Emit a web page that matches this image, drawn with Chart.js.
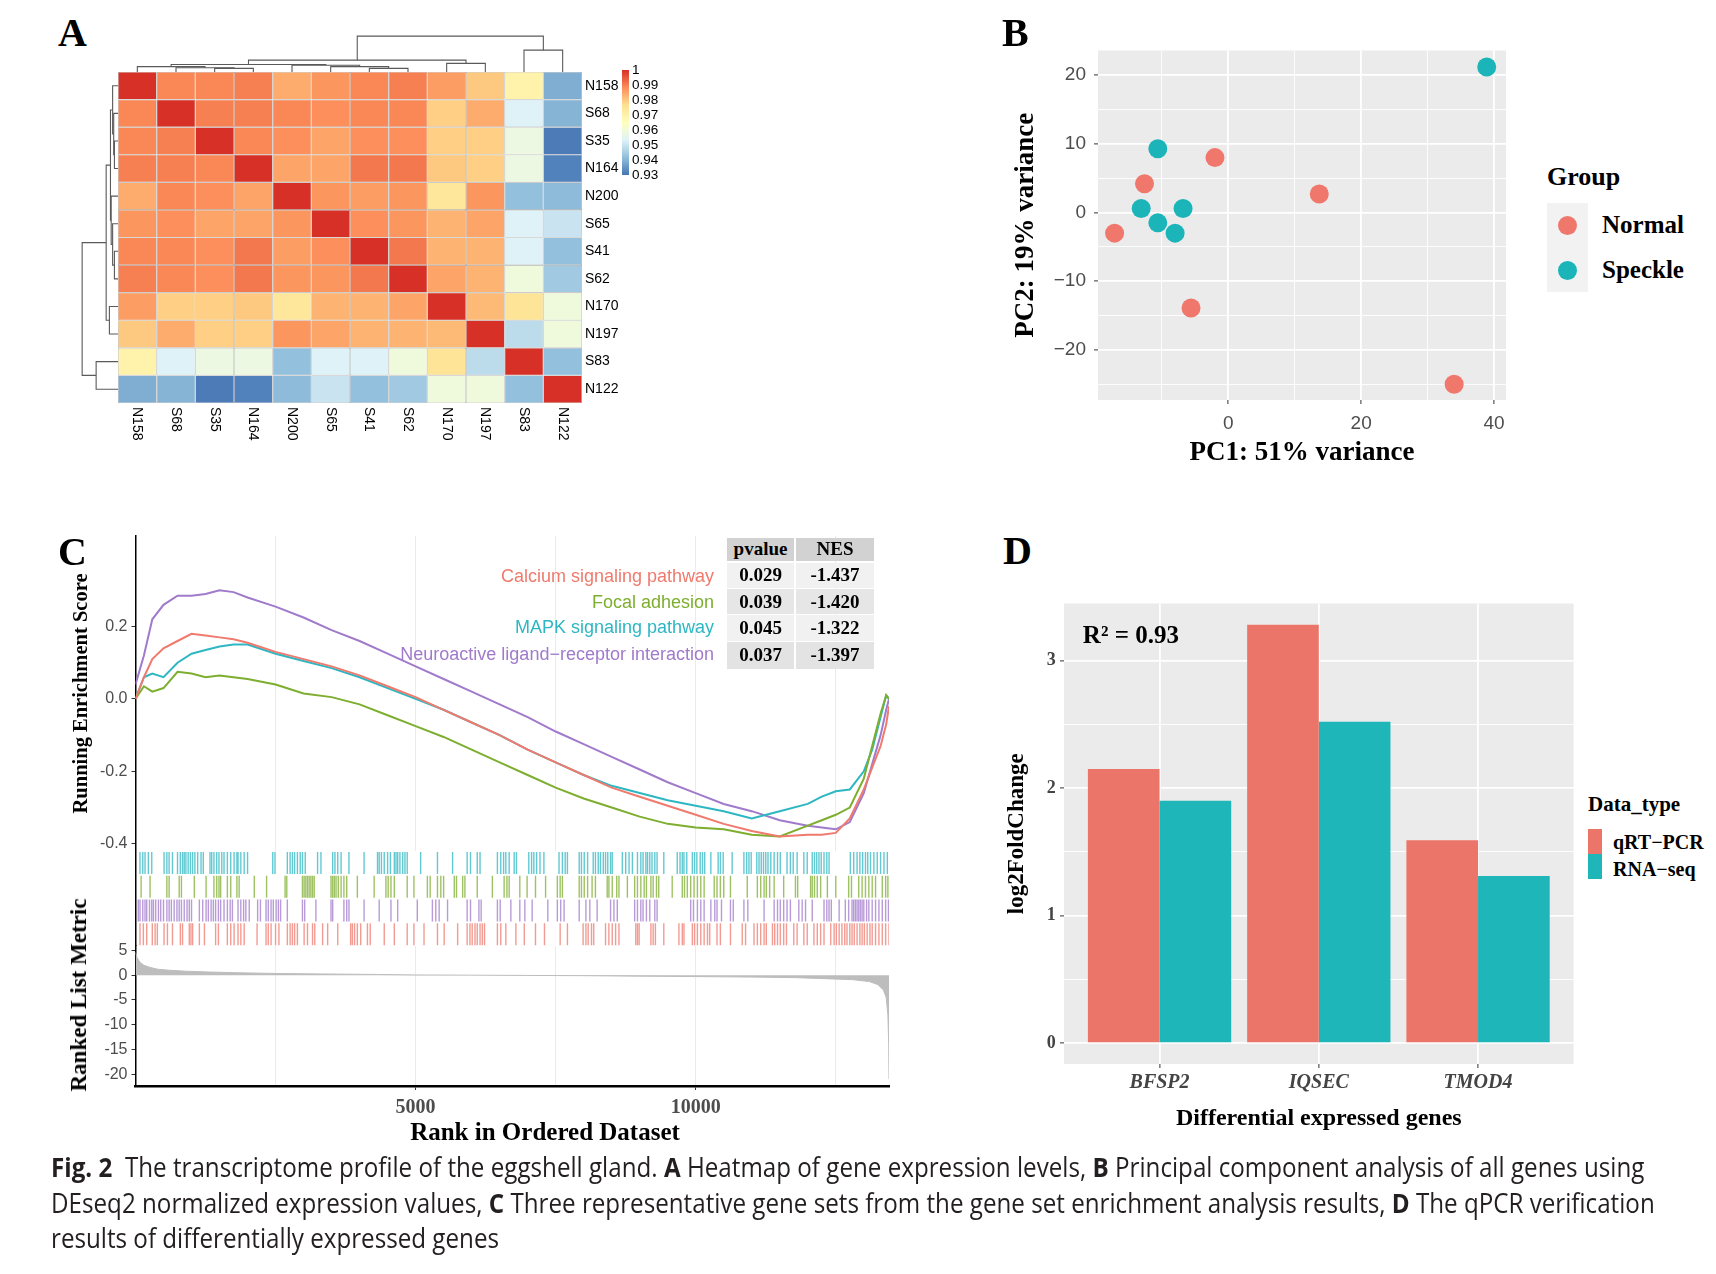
<!DOCTYPE html>
<html>
<head>
<meta charset="utf-8">
<title>Fig. 2 The transcriptome profile of the eggshell gland</title>
<script src="https://cdn.jsdelivr.net/npm/chart.js@4.4.1/dist/chart.umd.min.js"></script>
<style>
  html, body { margin:0; padding:0; background:#ffffff; }
  body { position:relative; width:1716px; height:1274px; overflow:hidden; }
  canvas { position:absolute; }
  .t { position:absolute; white-space:nowrap; color:#000; }
  .serifb { font-family:'Liberation Serif','Times New Roman',serif; font-weight:bold; }
  .sans { font-family:'Liberation Sans',Arial,sans-serif; }
  .cell { position:absolute; display:flex; align-items:center; justify-content:center;
          font-family:'Liberation Serif','Times New Roman',serif; font-weight:bold; font-size:19px; color:#000; }
  .cap { position:absolute; left:51px; white-space:nowrap; font-family:'Open Sans',sans-serif;
         font-size:27px; line-height:27px; color:#231f20; transform-origin:0 0; }
  .cap b { font-weight:bold; }
</style>
</head>
<body>
<script>
// ======================= DATA =======================
// ---- Panel A: sample-to-sample correlation heatmap ----
const samples = ['N158','S68','S35','N164','N200','S65','S41','S62','N170','N197','S83','N122'];
const corN158 = [1.000,0.989,0.989,0.990,0.984,0.987,0.989,0.990,0.986,0.980,0.970,0.939];
const corS68  = [0.989,1.000,0.990,0.990,0.989,0.988,0.989,0.989,0.979,0.984,0.953,0.940];
const corS35  = [0.989,0.990,1.000,0.989,0.988,0.985,0.988,0.988,0.979,0.979,0.958,0.931];
const corN164 = [0.990,0.990,0.989,1.000,0.985,0.985,0.991,0.991,0.980,0.979,0.958,0.932];
const corN200 = [0.984,0.989,0.988,0.985,1.000,0.987,0.986,0.987,0.974,0.987,0.942,0.941];
const corS65  = [0.987,0.988,0.985,0.985,0.987,1.000,0.988,0.987,0.983,0.985,0.953,0.950];
const corS41  = [0.989,0.989,0.988,0.991,0.986,0.988,1.000,0.991,0.983,0.983,0.953,0.942];
const corS62  = [0.990,0.989,0.988,0.991,0.987,0.987,0.991,1.000,0.985,0.983,0.959,0.944];
const corN170 = [0.986,0.979,0.979,0.980,0.974,0.983,0.983,0.985,1.000,0.982,0.975,0.959];
const corN197 = [0.980,0.984,0.979,0.979,0.987,0.985,0.983,0.983,0.982,1.000,0.948,0.959];
const corS83  = [0.970,0.953,0.958,0.958,0.942,0.953,0.953,0.959,0.975,0.948,1.000,0.942];
const corN122 = [0.939,0.940,0.931,0.932,0.941,0.950,0.942,0.944,0.959,0.959,0.942,1.000];
const heatLegendTicks = [1, 0.99, 0.98, 0.97, 0.96, 0.95, 0.94, 0.93];
const heatPalette = ['#4575B4','#91BFDB','#E0F3F8','#FFFFBF','#FEE090','#FC8D59','#D73027'];
// hierarchical clustering merges: [child, child, height]; numbers = leaves, 'mK' = K-th merge
const dendroMerges = [
  [2, 3, 0.10], [6, 7, 0.10], [1, 'm0', 0.12], [0, 'm2', 0.15], [5, 'm1', 0.15],
  [4, 'm4', 0.19], ['m3', 'm5', 0.21], [8, 9, 0.24], ['m6', 'm7', 0.33],
  [10, 11, 0.61], ['m8', 'm9', 1.00]
];

// ---- Panel B: PCA ----
const normalPC1  = [-17.1, -12.6, -2.0, 13.7, -5.6, 34.0];
const normalPC2  = [-3.0, 4.2, 8.0, 2.7, -13.9, -25.0];
const specklePC1 = [38.9, -10.6, -13.1, -6.8, -10.6, -8.0];
const specklePC2 = [21.2, 9.3, 0.6, 0.6, -1.5, -3.0];

// ---- Panel C: GSEA ----
const gsNames  = ['Calcium signaling pathway','Focal adhesion','MAPK signaling pathway','Neuroactive ligand\u2212receptor interaction'];
const gsPvalue = ['0.029','0.039','0.045','0.037'];
const gsNES    = ['-1.437','-1.420','-1.322','-1.397'];
const gsRugRow = [0, 2, 3, 1];   // rug row (0 = bottom) of each gene set
const gseaRank = [0,150,300,500,750,1000,1250,1500,1750,2000,2500,3000,3500,4000,4500,5000,5500,6000,6500,7000,7500,8000,8500,9000,9500,10000,10500,11000,11500,12000,12250,12500,12750,13000,13150,13300,13400,13450];
const esCalcium = [0.00,0.06,0.11,0.14,0.16,0.18,0.175,0.17,0.165,0.155,0.13,0.11,0.09,0.065,0.035,0.005,-0.03,-0.065,-0.10,-0.14,-0.175,-0.21,-0.245,-0.27,-0.295,-0.32,-0.345,-0.365,-0.38,-0.375,-0.375,-0.37,-0.33,-0.25,-0.19,-0.13,-0.07,-0.02];
const esFocal   = [0.00,0.035,0.02,0.03,0.075,0.07,0.06,0.065,0.06,0.055,0.04,0.015,0.005,-0.015,-0.045,-0.075,-0.105,-0.14,-0.175,-0.21,-0.245,-0.275,-0.30,-0.325,-0.345,-0.355,-0.36,-0.375,-0.38,-0.35,-0.335,-0.32,-0.30,-0.22,-0.13,-0.04,0.01,0.00];
const esMAPK    = [0.00,0.06,0.07,0.06,0.10,0.125,0.135,0.145,0.15,0.15,0.125,0.105,0.085,0.06,0.03,0.00,-0.03,-0.065,-0.10,-0.14,-0.175,-0.21,-0.24,-0.26,-0.28,-0.295,-0.31,-0.33,-0.31,-0.29,-0.27,-0.255,-0.25,-0.20,-0.14,-0.05,0.01,0.00];
const esNeuro   = [0.04,0.12,0.22,0.26,0.285,0.285,0.29,0.30,0.295,0.28,0.255,0.225,0.19,0.16,0.125,0.09,0.055,0.02,-0.015,-0.05,-0.09,-0.125,-0.16,-0.195,-0.23,-0.26,-0.29,-0.31,-0.335,-0.35,-0.355,-0.36,-0.34,-0.26,-0.18,-0.10,-0.03,0.00];
const hitsMAPK = [80,130,170,230,290,510,560,600,660,750,800,840,870,900,940,980,1020,1060,1110,1170,1210,1330,1360,1400,1450,1490,1540,1580,1640,1700,1760,1810,1830,1880,1940,2000,2450,2490,2710,2760,2800,2840,2890,2940,2980,3030,3250,3310,3520,3560,3610,3670,3810,4080,4320,4350,4390,4440,4500,4550,4620,4650,4680,4720,4770,4810,4850,5090,5390,5660,5920,5980,6100,6150,6460,6520,6570,6610,6670,6760,6800,7020,7070,7110,7160,7220,7290,7560,7620,7670,7710,7920,7960,8010,8070,8170,8210,8260,8300,8350,8390,8430,8480,8510,8690,8750,8810,8870,8960,9020,9060,9110,9140,9180,9220,9270,9310,9430,9670,9720,9760,9790,9840,9940,9980,10020,10080,10120,10160,10270,10400,10440,10490,10650,10860,10910,10950,10990,11090,11130,11170,11210,11250,11290,11340,11400,11460,11510,11630,11690,11740,11810,11930,11990,12080,12120,12160,12200,12240,12290,12340,12380,12760,12820,12880,12930,12980,13030,13070,13120,13180,13240,13300,13360,13420];
const hitsFocal = [100,260,560,600,780,820,1050,1260,1400,1450,1490,1520,1640,1700,1810,1850,2120,2340,2670,2700,2980,3010,3040,3070,3100,3130,3160,3190,3490,3520,3550,3580,3620,3670,3720,3770,3960,4260,4470,4510,4560,4620,4850,4970,5210,5260,5390,5450,5500,5690,5730,5840,5880,6100,6370,6580,6630,6670,6860,6990,7140,7320,7530,7580,7620,7920,7960,8010,8070,8150,8210,8420,8450,8510,8590,8630,8780,8910,8960,9020,9080,9120,9200,9240,9300,9340,9580,9760,9800,9850,9910,9970,10030,10090,10150,10330,10380,10440,10500,10620,10920,11100,11160,11220,11260,11320,11400,11570,11780,11820,12050,12080,12120,12170,12230,12350,12500,12730,12780,12910,12970,13030,13090,13150,13210,13330,13390,13430];
const hitsNeuro = [50,80,130,170,200,250,290,320,360,410,450,500,560,600,640,690,740,780,820,870,920,960,1000,1140,1200,1260,1300,1350,1390,1430,1480,1520,1580,1640,1690,1730,1830,1880,1930,1970,2030,2180,2230,2330,2370,2420,2460,2510,2550,2590,2710,2980,3020,3220,3490,3520,3720,3770,3810,4080,4350,4560,4680,5030,5300,5360,5420,5570,5920,5980,6130,6170,6460,6510,6700,6860,6950,7080,7360,7530,7590,7650,7920,8040,8110,8240,8480,8540,8600,8910,8960,9020,9060,9120,9180,9270,9310,9910,9960,10030,10090,10150,10270,10340,10380,10460,10620,10670,10860,10930,11220,11400,11460,11510,11570,11630,11690,11840,11900,11960,12080,12290,12340,12380,12420,12560,12670,12730,12790,12820,12850,12880,12910,12940,12970,13000,13050,13090,13150,13210,13270,13330,13390,13440];
const hitsCalcium = [80,140,200,300,350,390,510,570,660,800,840,960,990,1020,1140,1230,1430,1480,1640,1700,1760,1830,1880,1940,2170,2330,2370,2420,2500,2560,2710,2760,2800,2840,2890,3010,3070,3160,3200,3340,3430,3610,3840,3870,3910,3960,4020,4140,4190,4440,4620,4850,4970,5150,5390,5510,5750,5920,5970,6010,6060,6100,6150,6190,6230,6460,6520,6610,6790,6940,7140,7300,7580,7710,7990,8040,8080,8140,8180,8390,8450,8510,8570,8630,8930,8960,8990,9200,9240,9280,9430,9700,9760,9790,9940,9980,10030,10090,10150,10210,10250,10380,10440,10620,10830,10890,11040,11100,11160,11220,11260,11370,11410,11460,11510,11570,11620,11750,11810,11930,11990,12110,12170,12230,12290,12410,12470,12510,12560,12610,12660,12700,12750,12790,12830,12880,12930,12970,13010,13060,13110,13150,13210,13270,13330,13390,13450];
const metricRank  = [0,30,80,150,250,400,600,900,1300,1800,2500,3300,4300,5000,6000,7000,8000,9000,10000,11000,11800,12300,12800,13100,13250,13350,13400,13430,13445,13450];
const metricValue = [4.6,3.5,2.6,2.0,1.6,1.2,1.0,0.8,0.65,0.5,0.35,0.25,0.15,0.05,0.0,-0.05,-0.1,-0.2,-0.28,-0.38,-0.5,-0.7,-0.9,-1.3,-1.9,-3.0,-4.5,-8.0,-14.0,-21.0];
const rankGridTicks  = [2500, 5000, 7500, 10000, 12500];
const rankTickLabels = [5000, 10000];

// ---- Panel D: qPCR validation ----
const genes   = ['BFSP2','IQSEC','TMOD4'];
const qrtpcr  = [2.15, 3.28, 1.59];
const rnaseq  = [1.90, 2.52, 1.31];
const r2Text  = 'R\u00B2 = 0.93';
const r2Pos   = [0.82, 3.19];

// ======================= STYLE =======================
const SERIF = "'Liberation Serif','Times New Roman',serif";
const SANS  = "'Liberation Sans',Arial,sans-serif";
const colNormal = '#F0776C', colSpeckle = '#1BB5B9';
const colQ = '#EC7569', colR = '#1FB6B9';
const gsColors = ['#EF7A6D', '#7DAE2F', '#2EB7C3', '#A07ACB'];

Chart.defaults.animation = false;
Chart.defaults.responsive = false;
Chart.defaults.maintainAspectRatio = false;
Chart.defaults.plugins.legend.display = false;
Chart.defaults.plugins.tooltip.enabled = false;
Chart.defaults.events = [];
Chart.defaults.layout.autoPadding = false;
Chart.defaults.font.family = SANS;

function mkCanvas(left, top, w, h) {
  const c = document.createElement('canvas');
  c.width = w; c.height = h;
  c.style.left = left + 'px'; c.style.top = top + 'px';
  c.style.width = w + 'px'; c.style.height = h + 'px';
  document.body.appendChild(c);
  return c;
}
function hexToRgb(h) { const n = parseInt(h.slice(1), 16); return [(n >> 16) & 255, (n >> 8) & 255, n & 255]; }
function rgba(h, a) { const [r, g, b] = hexToRgb(h); return `rgba(${r},${g},${b},${a})`; }
function heatColor(v) {
  const lo = heatLegendTicks[heatLegendTicks.length - 1], hi = heatLegendTicks[0];
  const t = Math.min(1, Math.max(0, (v - lo) / (hi - lo))) * (heatPalette.length - 1);
  const i = Math.min(heatPalette.length - 2, Math.floor(t)), f = t - i;
  const a = hexToRgb(heatPalette[i]), b = hexToRgb(heatPalette[i + 1]);
  return `rgb(${Math.round(a[0] + (b[0] - a[0]) * f)},${Math.round(a[1] + (b[1] - a[1]) * f)},${Math.round(a[2] + (b[2] - a[2]) * f)})`;
}
function fixV(w) { return s => { s.width = w; s.paddingTop = 0; s.paddingBottom = 0; }; }
function fixH(h) { return s => { s.height = h; s.paddingLeft = 0; s.paddingRight = 0; }; }
function rankTicks(s) { s.ticks = rankGridTicks.map(v => ({ value: v })); }
const panelBg = {
  id: 'panelBg',
  beforeDraw(chart, args, opts) {
    if (!opts || !opts.color) return;
    const { ctx, chartArea: a } = chart;
    ctx.save(); ctx.fillStyle = opts.color;
    ctx.fillRect(a.left, a.top, a.right - a.left, a.bottom - a.top);
    ctx.restore();
  }
};
function addText(txt, left, cy, size, cls, extra) {
  const d = document.createElement('div');
  d.className = 't ' + cls;
  d.textContent = txt;
  d.style.left = left + 'px';
  d.style.top = (cy - size * 0.65) + 'px';
  d.style.fontSize = size + 'px';
  d.style.lineHeight = (size * 1.3) + 'px';
  if (extra) Object.assign(d.style, extra);
  document.body.appendChild(d);
  return d;
}

// ======================= PANEL A =======================
const corrMatrix = [corN158, corS68, corS35, corN164, corN200, corS65, corS41, corS62, corN170, corN197, corS83, corN122];

const heatDecor = {
  id: 'heatDecor',
  afterDraw(chart) {
    const { ctx, chartArea: a, scales: { x } } = chart;
    ctx.save();
    ctx.fillStyle = '#000';
    ctx.font = "14px " + SANS;
    ctx.textAlign = 'left'; ctx.textBaseline = 'middle';
    samples.forEach((s, c) => {
      ctx.save();
      ctx.translate(x.getPixelForValue(c + 0.5), a.bottom + 4);
      ctx.rotate(Math.PI / 2);
      ctx.fillText(s, 0, 0);
      ctx.restore();
    });
    // colour key
    const kx = a.right + 40, kw = 7, ky0 = a.top - 2, kh = 105;
    const lo = heatLegendTicks[heatLegendTicks.length - 1], hi = heatLegendTicks[0];
    const g = ctx.createLinearGradient(0, ky0 + kh, 0, ky0);
    heatPalette.forEach((col, i) => g.addColorStop(i / (heatPalette.length - 1), col));
    ctx.fillStyle = g;
    ctx.fillRect(kx, ky0, kw, kh);
    ctx.fillStyle = '#000';
    ctx.font = "13.5px " + SANS;
    heatLegendTicks.forEach(v => {
      ctx.fillText(String(v), kx + kw + 3, ky0 + kh - (v - lo) / (hi - lo) * kh);
    });
    ctx.restore();
  }
};

new Chart(mkCanvas(118, 56, 582, 396), {
  type: 'bar',
  data: {
    labels: samples,
    datasets: samples.map((s, c) => ({
      label: s,
      data: samples.map(() => [c, c + 1]),
      backgroundColor: corrMatrix.map(row => heatColor(row[c])),
      borderColor: '#A8A8A8', borderWidth: 0.6, borderSkipped: false,
      barPercentage: 1, categoryPercentage: 1, grouped: false, inflateAmount: 0
    }))
  },
  options: {
    indexAxis: 'y',
    layout: { padding: { left: 0, top: 16, right: 78, bottom: 49 } },
    scales: {
      x: { type: 'linear', min: 0, max: 12, display: false },
      y: { type: 'category', position: 'right', grid: { display: false, drawTicks: false },
           border: { display: false },
           ticks: { color: '#000', font: { size: 14, family: SANS }, padding: 3 },
           afterFit: fixV(40) }
    }
  },
  plugins: [heatDecor]
});

function buildDendroSegments(merges) {
  const nodes = [], segs = [];
  const pos = c => typeof c === 'number' ? { p: c + 0.5, h: 0 } : nodes[Number(c.slice(1))];
  merges.forEach(([a, b, h]) => {
    const A = pos(a), B = pos(b);
    segs.push([[A.p, A.h], [A.p, h], [B.p, h], [B.p, B.h]]);
    nodes.push({ p: (A.p + B.p) / 2, h });
  });
  return segs;
}
const dendroSegs = buildDendroSegments(dendroMerges);
const dendroStyle = { showLine: true, borderColor: '#5A5A5A', borderWidth: 1.1, pointRadius: 0, clip: false, tension: 0 };
new Chart(mkCanvas(118, 34, 464, 38), {
  type: 'scatter',
  data: { datasets: dendroSegs.map(seg => Object.assign({ data: seg.map(([p, h]) => ({ x: p, y: h })) }, dendroStyle)) },
  options: { layout: { padding: 0 },
    scales: { x: { type: 'linear', min: 0, max: 12, display: false }, y: { type: 'linear', min: 0, max: 1.06, display: false } } }
});
new Chart(mkCanvas(80, 72, 38, 331), {
  type: 'scatter',
  data: { datasets: dendroSegs.map(seg => Object.assign({ data: seg.map(([p, h]) => ({ x: h, y: p })) }, dendroStyle)) },
  options: { layout: { padding: 0 },
    scales: { x: { type: 'linear', min: 0, max: 1.06, reverse: true, display: false },
              y: { type: 'linear', min: 0, max: 12, reverse: true, display: false } } }
});

// ======================= PANEL B =======================
new Chart(mkCanvas(1005, 40, 510, 440), {
  type: 'scatter',
  data: {
    datasets: [
      { label: 'Normal', data: normalPC1.map((x, i) => ({ x, y: normalPC2[i] })),
        backgroundColor: colNormal, borderWidth: 0, pointRadius: 9.5 },
      { label: 'Speckle', data: specklePC1.map((x, i) => ({ x, y: specklePC2[i] })),
        backgroundColor: colSpeckle, borderWidth: 0, pointRadius: 9.5 }
    ]
  },
  options: {
    layout: { padding: { left: 0, top: 10.5, right: 9, bottom: 0 } },
    plugins: { panelBg: { color: '#EBEBEB' } },
    scales: {
      x: { type: 'linear', min: -19.6, max: 41.8,
           ticks: { stepSize: 10, includeBounds: false, autoSkip: false, maxRotation: 0,
                    callback: v => (v % 20 === 0 ? String(v) : ''),
                    color: '#4D4D4D', font: { size: 19, family: SANS }, padding: 8 },
           grid: { color: '#FFFFFF', lineWidth: c => (c.tick && c.tick.value % 20 === 0 ? 1.8 : 0.9),
                   tickColor: c => (c.tick && c.tick.value % 20 === 0 ? '#333333' : 'rgba(0,0,0,0)'),
                   tickLength: 4, tickWidth: 1 },
           border: { display: false },
           title: { display: true, text: 'PC1: 51% variance', color: '#000',
                    font: { family: SERIF, weight: 'bold', size: 27 }, padding: { top: 0, bottom: 11 } },
           afterFit: fixH(80) },
      y: { type: 'linear', min: -27.3, max: 23.6,
           ticks: { stepSize: 5, includeBounds: false, autoSkip: false,
                    callback: v => (v % 10 === 0 ? (v < 0 ? '\u2212' + Math.abs(v) : String(v)) : ''),
                    color: '#4D4D4D', font: { size: 19, family: SANS }, padding: 8 },
           grid: { color: '#FFFFFF', lineWidth: c => (c.tick && c.tick.value % 10 === 0 ? 1.8 : 0.9),
                   tickColor: c => (c.tick && c.tick.value % 10 === 0 ? '#333333' : 'rgba(0,0,0,0)'),
                   tickLength: 4, tickWidth: 1 },
           border: { display: false },
           title: { display: true, text: 'PC2: 19% variance', color: '#000',
                    font: { family: SERIF, weight: 'bold', size: 27 }, padding: { top: 5, bottom: 0 } },
           afterFit: fixV(93) }
    }
  },
  plugins: [panelBg]
});

// ======================= PANEL C =======================
const gsSeries = [esCalcium, esFocal, esMAPK, esNeuro];
const gsHits = [hitsCalcium, hitsFocal, hitsMAPK, hitsNeuro];
const rankMax = 13450;
function leftGrid() { return { color: 'rgba(0,0,0,0)', drawOnChartArea: false, tickColor: '#333333', tickLength: 4, tickWidth: 1 }; }
function leftBorder() { return { display: true, color: '#000000', width: 1.5 }; }

new Chart(mkCanvas(60, 526, 835, 325), {
  type: 'scatter',
  data: {
    datasets: gsSeries.map((s, k) => ({
      label: gsNames[k], data: gseaRank.map((x, i) => ({ x, y: s[i] })),
      showLine: true, borderColor: gsColors[k], borderWidth: 2, pointRadius: 0, tension: 0
    }))
  },
  options: {
    layout: { padding: { left: 0, top: 10, right: 6, bottom: 0 } },
    scales: {
      x: { type: 'linear', min: 0, max: rankMax,
           ticks: { display: false },
           afterBuildTicks: rankTicks,
           grid: { color: '#EBEBEB', lineWidth: 1, drawTicks: false },
           border: { display: false }, afterFit: fixH(0) },
      y: { type: 'linear', min: -0.42, max: 0.45,
           ticks: { stepSize: 0.2, includeBounds: false, callback: v => v.toFixed(1),
                    color: '#4D4D4D', font: { size: 16, family: SANS }, padding: 4 },
           afterBuildTicks: s => { s.ticks = s.ticks.filter(t => t.value < 0.3); },
           grid: leftGrid(), border: leftBorder(),
           title: { display: true, text: 'Running Enrichment Score', color: '#000',
                    font: { family: SERIF, weight: 'bold', size: 20.5 }, padding: { top: 9, bottom: 0 } },
           afterFit: fixV(75.5) }
    }
  }
});

new Chart(mkCanvas(60, 851, 835, 95), {
  type: 'scatter',
  data: {
    datasets: gsHits.map((hits, k) => ({
      label: gsNames[k],
      data: hits.map(x => ({ x, y: 0.5 + gsRugRow[k] })),
      pointStyle: 'line', pointRotation: 90, pointRadius: 11,
      borderColor: rgba(gsColors[k], 0.75), pointBorderColor: rgba(gsColors[k], 0.75),
      pointBorderWidth: 1.4, borderWidth: 1.4, showLine: false
    }))
  },
  options: {
    layout: { padding: { left: 0, top: 0, right: 6, bottom: 0 } },
    scales: {
      x: { type: 'linear', min: 0, max: rankMax, display: false },
      y: { type: 'linear', min: 0, max: 4, ticks: { display: false },
           grid: { display: false, drawTicks: false },
           border: leftBorder(), afterFit: fixV(75.5) }
    }
  }
});

new Chart(mkCanvas(60, 940, 835, 210), {
  type: 'scatter',
  data: {
    datasets: [{
      label: 'Ranked List Metric', data: metricRank.map((x, i) => ({ x, y: metricValue[i] })),
      showLine: true, fill: 'origin', backgroundColor: '#BDBDBD', borderColor: '#BDBDBD',
      borderWidth: 1, pointRadius: 0, tension: 0
    }]
  },
  options: {
    layout: { padding: { left: 0, top: 6, right: 6, bottom: 0 } },
    scales: {
      x: { type: 'linear', min: 0, max: rankMax, position: 'bottom',
           ticks: { autoSkip: false, maxRotation: 0,
                    callback: v => (rankTickLabels.includes(v) ? String(v) : ''),
                    color: '#4D4D4D', font: { family: SERIF, weight: 'bold', size: 20 }, padding: 6 },
           afterBuildTicks: rankTicks,
           grid: { color: '#EBEBEB', lineWidth: 1,
                   tickColor: c => (c.tick && rankTickLabels.includes(c.tick.value) ? '#333333' : 'rgba(0,0,0,0)'),
                   tickLength: 4, tickWidth: 1 },
           border: { display: true, color: '#000000', width: 2.5 },
           afterFit: fixH(64) },
      y: { type: 'linear', min: -22.4, max: 5.9,
           ticks: { stepSize: 5, includeBounds: false, callback: v => String(v),
                    color: '#4D4D4D', font: { size: 16, family: SANS }, padding: 4 },
           grid: leftGrid(), border: leftBorder(),
           afterFit: fixV(75.5) }
    }
  }
});

// legend labels and statistics table
const legendCY = [576.5, 603, 628, 655];
gsNames.forEach((n, k) => {
  addText(n, 0, legendCY[k], 18, 'sans', { color: gsColors[k], width: '714px', textAlign: 'right' });
});
const tblCols = [[727, 67], [796, 78]];
const tblRows = [[537.5, 23.5, '#D2D2D2'], [562.5, 25, '#F1F1F1'], [589, 25, '#E6E6E6'], [615, 25.5, '#F1F1F1'], [641.5, 27, '#E3E3E3']];
const tblText = [['pvalue', 'NES']].concat(gsPvalue.map((p, i) => [p, gsNES[i]]));
tblRows.forEach((r, ri) => {
  tblCols.forEach((c, ci) => {
    const d = document.createElement('div');
    d.className = 'cell';
    Object.assign(d.style, { left: c[0] + 'px', top: r[0] + 'px', width: c[1] + 'px', height: r[1] + 'px', background: r[2] });
    d.textContent = tblText[ri][ci];
    document.body.appendChild(d);
  });
});
addText('Rank in Ordered Dataset', 545, 1132, 25, 'serifb', { transform: 'translateX(-50%)' });
(function () {
  const d = document.createElement('div');
  d.className = 't serifb';
  d.textContent = 'Ranked List Metric';
  Object.assign(d.style, { left: '79px', top: '995px', fontSize: '23px', lineHeight: '28px',
    transform: 'translate(-50%,-50%) rotate(-90deg)' });
  document.body.appendChild(d);
})();

// ======================= PANEL D =======================
const r2Label = {
  id: 'r2Label',
  afterDatasetsDraw(chart) {
    const { ctx, scales: { x, y } } = chart;
    ctx.save();
    ctx.font = "bold 25px " + SERIF;
    ctx.fillStyle = '#000';
    ctx.textAlign = 'center'; ctx.textBaseline = 'middle';
    ctx.fillText(r2Text, x.getPixelForValue(r2Pos[0]), y.getPixelForValue(r2Pos[1]));
    ctx.restore();
  }
};
new Chart(mkCanvas(1000, 590, 580, 560), {
  type: 'bar',
  data: {
    datasets: [
      { label: 'qRT\u2212PCR', data: genes.map((g, i) => ({ x: i + 1, y: qrtpcr[i] })), backgroundColor: colQ,
        borderWidth: 0, categoryPercentage: 0.9, barPercentage: 1 },
      { label: 'RNA\u2212seq', data: genes.map((g, i) => ({ x: i + 1, y: rnaseq[i] })), backgroundColor: colR,
        borderWidth: 0, categoryPercentage: 0.9, barPercentage: 1 }
    ]
  },
  options: {
    layout: { padding: { left: 0, top: 13.5, right: 6.4, bottom: 0 } },
    plugins: { panelBg: { color: '#EBEBEB' } },
    scales: {
      x: { type: 'linear', min: 0.4, max: 3.6, offset: false,
           ticks: { stepSize: 1, includeBounds: false, autoSkip: false, maxRotation: 0,
                    callback: v => genes[v - 1] || '',
                    color: '#444444', font: { family: SERIF, weight: 'bold', style: 'italic', size: 20 }, padding: 3 },
           grid: { offset: false, color: '#FFFFFF', lineWidth: 1.8, tickColor: '#333333', tickLength: 4, tickWidth: 1 },
           border: { display: false },
           title: { display: true, text: 'Differential expressed genes', color: '#000',
                    font: { family: SERIF, weight: 'bold', size: 24 }, padding: { top: 0, bottom: 16.6 } },
           afterFit: fixH(86) },
      y: { type: 'linear', min: -0.164, max: 3.447, beginAtZero: false,
           ticks: { stepSize: 0.5, includeBounds: false, autoSkip: false,
                    callback: v => (Number.isInteger(v) ? String(v) : ''),
                    color: '#444444', font: { family: SERIF, weight: 'bold', size: 18 }, padding: 4.3 },
           grid: { color: '#FFFFFF', lineWidth: c => (c.tick && Number.isInteger(c.tick.value) ? 1.8 : 0.9),
                   tickColor: c => (c.tick && Number.isInteger(c.tick.value) ? '#333333' : 'rgba(0,0,0,0)'),
                   tickLength: 4, tickWidth: 1 },
           border: { display: false },
           title: { display: true, text: 'log2FoldChange', color: '#000',
                    font: { family: SERIF, weight: 'bold', size: 23 }, padding: { top: 3, bottom: 0 } },
           afterFit: fixV(64) }
    }
  },
  plugins: [panelBg, r2Label]
});

// ======================= LEGENDS / LETTERS =======================
addText('Group', 1547, 177, 26, 'serifb');
(function () {
  const box = document.createElement('div');
  Object.assign(box.style, { position: 'absolute', left: '1547px', top: '203px', width: '41px', height: '89px', background: '#F2F2F2' });
  document.body.appendChild(box);
  [[225, colNormal, 'Normal'], [270, colSpeckle, 'Speckle']].forEach(([cy, col, lab]) => {
    const dot = document.createElement('div');
    Object.assign(dot.style, { position: 'absolute', left: (1567.5 - 9.5) + 'px', top: (cy - 9.5) + 'px',
      width: '19px', height: '19px', borderRadius: '50%', background: col });
    document.body.appendChild(dot);
    addText(lab, 1602, cy, 25, 'serifb');
  });
})();
addText('Data_type', 1588, 805, 21, 'serifb');
(function () {
  [[828.5, colQ, 'qRT\u2212PCR', 842], [853.5, colR, 'RNA\u2212seq', 869]].forEach(([top, col, lab, cy]) => {
    const k = document.createElement('div');
    Object.assign(k.style, { position: 'absolute', left: '1588px', top: top + 'px', width: '14px', height: '25px', background: col });
    document.body.appendChild(k);
    addText(lab, 1613, cy, 20, 'serifb');
  });
})();
[['A', 58, 13], ['B', 1002, 13], ['C', 58, 532], ['D', 1003, 531]].forEach(([l, x, y]) => {
  const d = document.createElement('div');
  d.className = 't serifb';
  d.textContent = l;
  Object.assign(d.style, { left: x + 'px', top: y + 'px', fontSize: '40px', lineHeight: '40px' });
  document.body.appendChild(d);
});

// ======================= CAPTION =======================
const captionHTML = [
  '<b>Fig. 2</b>&nbsp;&nbsp;The transcriptome profile of the eggshell gland. <b>A</b> Heatmap of gene expression levels, <b>B</b> Principal component analysis of all genes using',
  'DEseq2 normalized expression values, <b>C</b> Three representative gene sets from the gene set enrichment analysis results, <b>D</b> The qPCR verification',
  'results of differentially expressed genes'
];
const captionTop = [1152.5, 1188.6, 1223.6];
const capEls = captionHTML.map((h, i) => {
  const d = document.createElement('div');
  d.className = 'cap';
  d.innerHTML = h;
  d.style.top = captionTop[i] + 'px';
  document.body.appendChild(d);
  return d;
});
const w1 = capEls[0].getBoundingClientRect().width, w2 = capEls[1].getBoundingClientRect().width;
const capScale = ((1607 / w1) + (1590 / w2)) / 2;
capEls.forEach(d => { d.style.transform = 'scaleX(' + capScale + ')'; });
</script>
</body>
</html>
